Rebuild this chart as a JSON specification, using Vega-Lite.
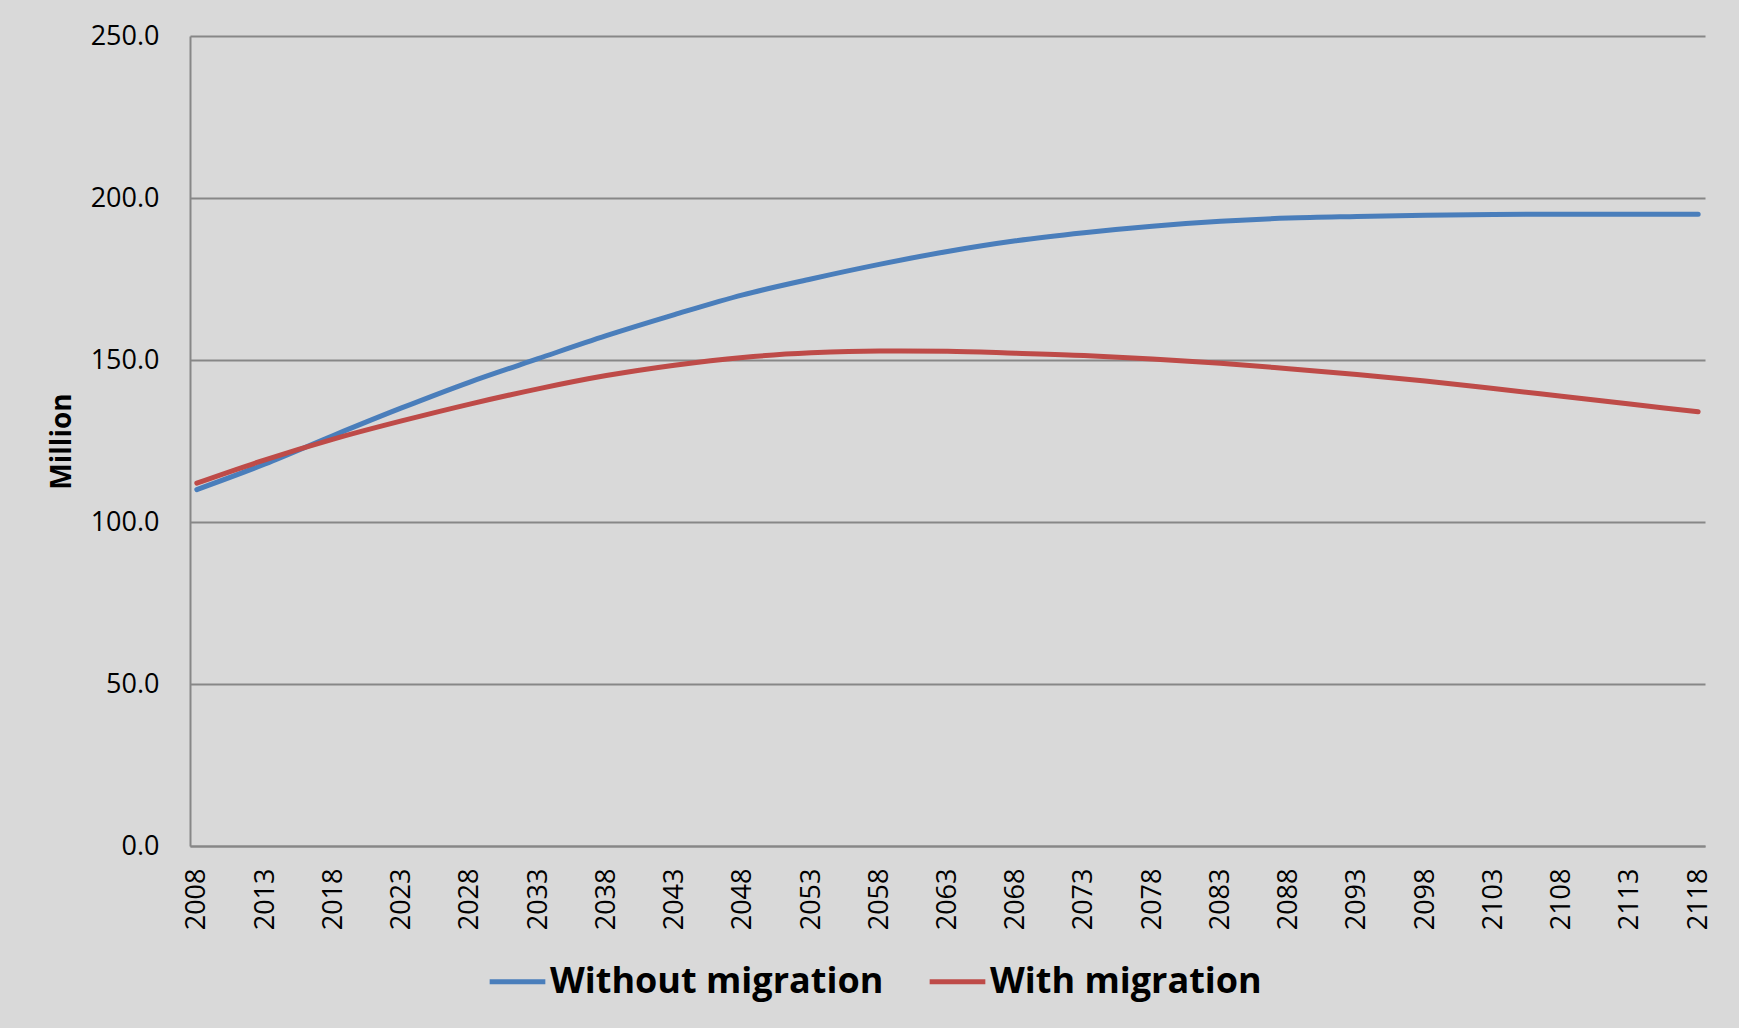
{
  "$schema": "https://vega.github.io/schema/vega-lite/v6.json",
  "width": 1515,
  "height": 810,
  "autosize": {"type": "none"},
  "padding": {"left": 190, "top": 36, "right": 34, "bottom": 182},
  "background": "#d9d9d9",
  "config": {
    "view": {"stroke": null, "fill": "#d9d9d9"},
    "font": "Open Sans"
  },
  "data": {
    "values": [
      {"year": 2008, "series": "Without migration", "value": 110.0},
      {"year": 2013, "series": "Without migration", "value": 117.9},
      {"year": 2018, "series": "Without migration", "value": 126.7},
      {"year": 2023, "series": "Without migration", "value": 135.2},
      {"year": 2028, "series": "Without migration", "value": 143.2},
      {"year": 2033, "series": "Without migration", "value": 150.4},
      {"year": 2038, "series": "Without migration", "value": 157.5},
      {"year": 2043, "series": "Without migration", "value": 164.0},
      {"year": 2048, "series": "Without migration", "value": 170.1},
      {"year": 2053, "series": "Without migration", "value": 175.0},
      {"year": 2058, "series": "Without migration", "value": 179.5},
      {"year": 2063, "series": "Without migration", "value": 183.5},
      {"year": 2068, "series": "Without migration", "value": 186.8},
      {"year": 2073, "series": "Without migration", "value": 189.3},
      {"year": 2078, "series": "Without migration", "value": 191.3},
      {"year": 2083, "series": "Without migration", "value": 192.8},
      {"year": 2088, "series": "Without migration", "value": 193.8},
      {"year": 2093, "series": "Without migration", "value": 194.3},
      {"year": 2098, "series": "Without migration", "value": 194.7},
      {"year": 2103, "series": "Without migration", "value": 194.9},
      {"year": 2108, "series": "Without migration", "value": 195.0},
      {"year": 2113, "series": "Without migration", "value": 195.0},
      {"year": 2118, "series": "Without migration", "value": 195.0},
      {"year": 2008, "series": "With migration", "value": 112.0},
      {"year": 2013, "series": "With migration", "value": 119.2},
      {"year": 2018, "series": "With migration", "value": 125.6},
      {"year": 2023, "series": "With migration", "value": 131.2},
      {"year": 2028, "series": "With migration", "value": 136.4},
      {"year": 2033, "series": "With migration", "value": 141.1},
      {"year": 2038, "series": "With migration", "value": 145.2},
      {"year": 2043, "series": "With migration", "value": 148.4},
      {"year": 2048, "series": "With migration", "value": 150.8},
      {"year": 2053, "series": "With migration", "value": 152.2},
      {"year": 2058, "series": "With migration", "value": 152.8},
      {"year": 2063, "series": "With migration", "value": 152.7},
      {"year": 2068, "series": "With migration", "value": 152.1},
      {"year": 2073, "series": "With migration", "value": 151.4},
      {"year": 2078, "series": "With migration", "value": 150.3},
      {"year": 2083, "series": "With migration", "value": 149.0},
      {"year": 2088, "series": "With migration", "value": 147.3},
      {"year": 2093, "series": "With migration", "value": 145.5},
      {"year": 2098, "series": "With migration", "value": 143.5},
      {"year": 2103, "series": "With migration", "value": 141.2},
      {"year": 2108, "series": "With migration", "value": 138.8},
      {"year": 2113, "series": "With migration", "value": 136.4},
      {"year": 2118, "series": "With migration", "value": 134.0}
    ]
  },
  "mark": {"type": "line", "interpolate": "monotone", "strokeWidth": 5, "strokeCap": "round", "strokeJoin": "round"},
  "encoding": {
    "x": {
      "field": "year",
      "type": "quantitative",
      "scale": {"domain": [2007.5, 2118.5], "nice": false, "zero": false},
      "axis": {
        "title": null,
        "values": [2008, 2013, 2018, 2023, 2028, 2033, 2038, 2043, 2048, 2053, 2058, 2063, 2068, 2073, 2078, 2083, 2088, 2093, 2098, 2103, 2108, 2113, 2118],
        "format": "d",
        "labelAngle": -90,
        "labelFontSize": 27,
        "labelColor": "#000000",
        "labelPadding": 22,
        "labelOverlap": false,
        "labelFlush": false,
        "ticks": false,
        "tickSize": 0,
        "grid": false,
        "domainColor": "#878787",
        "domainWidth": 2
      }
    },
    "y": {
      "field": "value",
      "type": "quantitative",
      "scale": {"domain": [0, 250], "nice": false},
      "axis": {
        "title": "Million",
        "titleFontSize": 28,
        "titleFontWeight": "bold",
        "titleColor": "#000000",
        "titlePadding": 14,
        "values": [0, 50, 100, 150, 200, 250],
        "format": ".1f",
        "labelFontSize": 27,
        "labelColor": "#000000",
        "labelPadding": 31,
        "ticks": false,
        "tickSize": 0,
        "grid": true,
        "gridColor": "#878787",
        "gridWidth": 2,
        "domainColor": "#878787",
        "domainWidth": 2
      }
    },
    "color": {
      "field": "series",
      "type": "nominal",
      "sort": ["Without migration", "With migration"],
      "scale": {"domain": ["Without migration", "With migration"], "range": ["#4a7ebb", "#be4b48"]},
      "legend": {
        "title": null,
        "orient": "none",
        "direction": "horizontal",
        "legendX": 297,
        "legendY": 915,
        "symbolType": "stroke",
        "symbolSize": 3100,
        "symbolStrokeWidth": 5,
        "labelFontSize": 36,
        "labelFontWeight": "bold",
        "labelColor": "#000000",
        "labelOffset": 2,
        "columnPadding": 35,
        "labelLimit": 0
      }
    }
  }
}
